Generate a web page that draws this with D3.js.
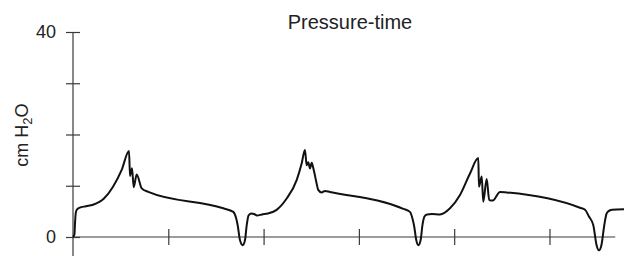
<!DOCTYPE html>
<html>
<head>
<meta charset="utf-8">
<script src="https://cdn.jsdelivr.net/npm/d3@7"></script>
<style>
  html, body { margin: 0; padding: 0; background: #fff; }
  svg { display: block; font-family: "Liberation Sans", Arial, Helvetica, sans-serif; }
</style>
</head>
<body>
<svg id="chart" width="624" height="259"></svg>
<script>
// time (s) and airway pressure (cm H2O)
const time = [
  0, 0.015, 0.022, 0.03, 0.04, 0.066, 0.136, 0.21, 0.325, 0.42,
  0.511, 0.588, 0.598, 0.619, 0.637, 0.668, 0.721, 0.79, 1.577, 1.682,
  1.71, 1.728, 1.752, 1.781, 1.805, 1.823, 1.842, 1.868, 1.899, 1.931,
  1.983, 2.046, 2.137, 2.242, 2.347, 2.4, 2.434, 2.452, 2.469, 2.487,
  2.505, 2.522, 2.556, 2.573, 2.609, 2.644, 2.696, 3.466, 3.536, 3.562,
  3.581, 3.602, 3.625, 3.648, 3.667, 3.688, 3.715, 3.767, 3.851, 3.956,
  4.061, 4.166, 4.253, 4.26, 4.289, 4.305, 4.341, 4.368, 4.404, 4.481,
  4.551, 5.32, 5.373, 5.414, 5.46, 5.493, 5.519, 5.546, 5.575, 5.598,
  5.617, 5.656, 5.782
];
const pressure = [
  0, 0.5, 3.0, 4.8, 5.3, 5.7, 6.0, 6.3, 7.5, 9.8,
  13.1, 16.8, 11.9, 13.4, 9.7, 12.2, 9.5, 8.8, 5.6, 4.9,
  3.8, 2.3, -0.6, -1.6, -0.6, 2.3, 4.2, 4.6, 4.5, 4.2,
  4.4, 4.6, 5.3, 7.5, 11.1, 14.4, 17.0, 14.0, 14.6, 13.4,
  14.5, 13.4, 10.5, 9.2, 8.7, 9.0, 8.8, 5.5, 4.9, 3.6,
  2.0, -0.6, -1.6, -0.6, 2.3, 4.0, 4.4, 4.5, 4.4, 5.6,
  8.2, 12.4, 15.4, 9.8, 11.8, 6.9, 11.3, 7.2, 7.1, 8.8,
  8.7, 5.7, 5.3, 4.0, 2.3, -1.5, -2.6, -1.5, 2.3, 4.5,
  5.0, 5.3, 5.4
];
const yTicks = [0, 10, 20, 30, 40];
const yTickLabels = ["0", "", "", "", "40"];
const xTicks = [1, 2, 3, 4, 5];
const title = "Pressure-time";

const svg = d3.select("#chart");
const x = d3.scaleLinear().domain([0, 5.782]).range([73, 624]);
const y = d3.scaleLinear().domain([0, 40]).range([237, 32]);
const axisColor = "#3a3a3a";

// y axis
const yAxis = d3.axisLeft(y).tickValues(yTicks).tickSize(0).tickPadding(0)
  .tickFormat((d, i) => yTickLabels[i]);
const gy = svg.append("g").attr("transform", `translate(${x(0)},0)`).call(yAxis);
gy.select(".domain").remove();
gy.selectAll(".tick text").attr("x", -17).attr("font-size", 18).attr("fill", "#222")
  .attr("font-family", "Liberation Sans, Arial, sans-serif");
gy.selectAll(".tick").append("line")
  .attr("x1", -7).attr("x2", 7).attr("stroke", axisColor).attr("stroke-width", 1.2);
svg.append("line").attr("x1", x(0)).attr("x2", x(0)).attr("y1", y(40)).attr("y2", 256)
  .attr("stroke", axisColor).attr("stroke-width", 1.2);

// x axis
svg.append("line").attr("x1", x(0)).attr("x2", x(5.69)).attr("y1", y(0)).attr("y2", y(0))
  .attr("stroke", axisColor).attr("stroke-width", 1.2);
const xAxis = d3.axisBottom(x).tickValues(xTicks).tickSize(0).tickFormat("");
const gx = svg.append("g").attr("transform", `translate(0,${y(0)})`).call(xAxis);
gx.select(".domain").remove();
gx.selectAll(".tick line").remove();
gx.selectAll(".tick").append("line")
  .attr("y1", -8).attr("y2", 8).attr("stroke", axisColor).attr("stroke-width", 1.2);

// waveform
const line = d3.line().x((d, i) => x(time[i])).y(d => y(d)).curve(d3.curveMonotoneX);
svg.append("path").datum(pressure).attr("d", line)
  .attr("fill", "none").attr("stroke", "#111").attr("stroke-width", 2)
  .attr("stroke-linejoin", "miter");

// title
svg.append("text").attr("x", 350).attr("y", 29).attr("text-anchor", "middle")
  .attr("font-size", 20).attr("fill", "#222").text(title);

// y label with subscript
const yl = svg.append("text").attr("transform", "translate(28,135) rotate(-90)")
  .attr("text-anchor", "middle").attr("font-size", 18).attr("fill", "#222");
yl.append("tspan").text("cm H");
yl.append("tspan").attr("font-size", 13).attr("dy", 4).text("2");
yl.append("tspan").attr("dy", -4).text("O");
</script>
</body>
</html>
